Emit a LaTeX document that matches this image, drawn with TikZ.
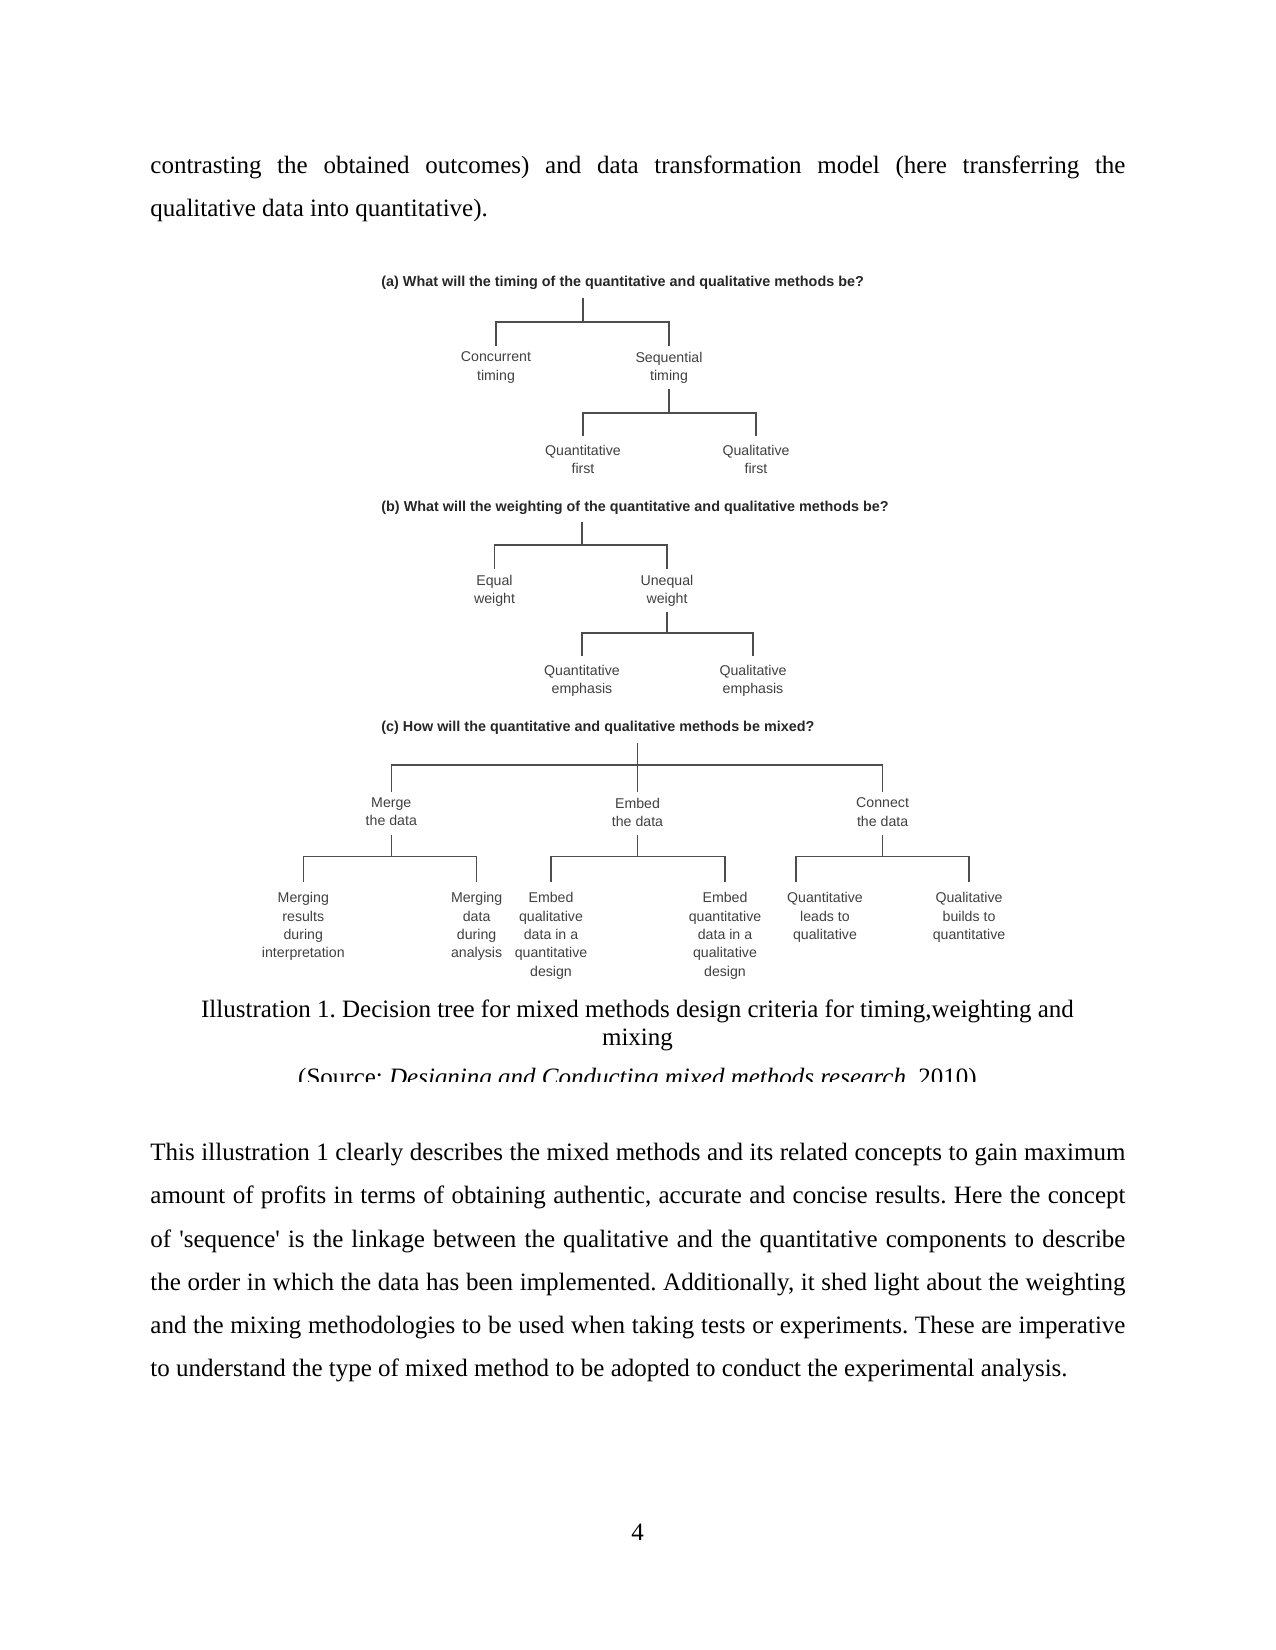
\documentclass[tikz,border=0pt]{standalone}
\usepackage{fontspec}
\setmainfont{Liberation Serif}
\setsansfont{Liberation Sans}
\usetikzlibrary{calc}

\definecolor{figink}{HTML}{404040}
\definecolor{headink}{HTML}{262626}
\definecolor{figline}{HTML}{4D4D4D}

\newcommand{\jline}[1]{\makebox[468pt][s]{#1}}

\tikzset{
  bodyline/.style={anchor=base west, inner sep=0pt, font=\fontsize{12}{14}\selectfont\frenchspacing},
  capline/.style={anchor=base, inner sep=0pt, font=\fontsize{12}{14}\selectfont\frenchspacing},
  question/.style={anchor=base west, inner sep=0pt, text=headink, font=\sffamily\bfseries\fontsize{6.9}{8}\selectfont},
  choice/.style={anchor=north, align=center, inner xsep=0pt, inner ysep=2.6pt, text depth=1.5pt, text=figink, font=\sffamily\fontsize{6.8}{8.8}\selectfont},
  leaf/.style={choice, inner ysep=4pt},
  deepleaf/.style={choice, inner ysep=5pt},
  fork/.style={draw=figline, line width=0.7pt},
}

\begin{document}
\begin{tikzpicture}[x=0.48pt, y=-0.48pt]
  \useasboundingbox (0,0) rectangle (1275,1650);

  % text above the figure
  \node[bodyline] (p1a) at (150,174) {\jline{contrasting the obtained outcomes) and data transformation model (here transferring the}};
  \node[bodyline] (p1b) at (150,217) {qualitative data into quantitative).};

  % (a) timing
  \node[question] (qa) at (381,287) {(a) What will the timing of the quantitative and qualitative methods be?};
  \node[choice] (conc) at (496,346) {Concurrent\\timing};
  \node[choice] (seq) at (669,346) {Sequential\\timing};
  \node[leaf] (qnfirst) at (583,436) {Quantitative\\first};
  \node[leaf] (qlfirst) at (756,436) {Qualitative\\first};
  \coordinate (ja) at (583,322);
  \coordinate (jseq) at (669,413);
  \draw[fork] (ja |- qa.south) ++(0,8) -- (ja) (conc.north) |- (ja) -| (seq.north);
  \draw[fork] (seq.south) -- (jseq) (qnfirst.north) |- (jseq) -| (qlfirst.north);

  % (b) weighting
  \node[question] (qb) at (381,511) {(b) What will the weighting of the quantitative and qualitative methods be?};
  \node[choice] (equal) at (494.5,569) {Equal\\weight};
  \node[choice] (unequal) at (667,569) {Unequal\\weight};
  \node[leaf] (qnemph) at (582,656.4) {Quantitative\\emphasis};
  \node[leaf] (qlemph) at (753,656.4) {Qualitative\\emphasis};
  \coordinate (jb) at (582,545);
  \coordinate (juneq) at (667,633);
  \draw[fork] (jb |- qb.south) ++(0,8) -- (jb) (equal.north) |- (jb) -| (unequal.north);
  \draw[fork] (unequal.south) -- (juneq) (qnemph.north) |- (juneq) -| (qlemph.north);

  % (c) mixing
  \node[question] (qc) at (381,731) {(c) How will the quantitative and qualitative methods be mixed?};
  \node[choice] (merge) at (391.3,792) {Merge\\the data};
  \node[choice] (embed) at (637.5,792) {Embed\\the data};
  \node[choice] (connect) at (882.6,792) {Connect\\the data};
  \coordinate (jc) at (637.5,765);
  \draw[fork] (jc |- qc.south) ++(0,9) -- (embed.north) (merge.north) |- (jc) -| (connect.north);

  \node[deepleaf] (mgres) at (303.3,881.7) {Merging\\results\\during\\interpretation};
  \node[deepleaf] (mgdat) at (476.6,881.7) {Merging\\data\\during\\analysis};
  \node[deepleaf] (embql) at (551,881.7) {Embed\\qualitative\\data in a\\quantitative\\design};
  \node[deepleaf] (embqn) at (725,881.7) {Embed\\quantitative\\data in a\\qualitative\\design};
  \node[deepleaf] (qnlead) at (825,881.7) {Quantitative\\leads to\\qualitative};
  \node[deepleaf] (qlbuild) at (969,881.7) {Qualitative\\builds to\\quantitative};
  \coordinate (jmerge) at (391.3,856.7);
  \coordinate (jembed) at (637.5,856.7);
  \coordinate (jconn) at (882.6,856.7);
  \draw[fork] (merge.south) -- (jmerge) (mgres.north) |- (jmerge) -| (mgdat.north);
  \draw[fork] (embed.south) -- (jembed) (embql.north) |- (jembed) -| (embqn.north);
  \draw[fork] (connect.south) -- (jconn) ($(qnlead.north)+(-29,0)$) |- (jconn) -| (qlbuild.north);

  % caption
  \node[capline] (cap1) at (637.5,1017) {Illustration 1. Decision tree for mixed methods design criteria for timing,weighting and};
  \node[capline] (cap2) at (637.5,1045) {mixing};
  \begin{scope}
    \clip (0,1050) rectangle (1275,1081);
    \node[capline] (source) at (637.5,1085) {(Source: \textit{Designing and Conducting mixed methods research}, 2010)};
  \end{scope}

  % text below the figure
  \node[bodyline] (p2a) at (150,1160.6) {\jline{This illustration 1 clearly describes the mixed methods and its related concepts to gain maximum}};
  \node[bodyline] (p2b) at (150,1203.8) {\jline{amount of profits in terms of obtaining authentic, accurate and concise results. Here the concept}};
  \node[bodyline] (p2c) at (150,1247) {\jline{of \textquotesingle sequence\textquotesingle{} is the linkage between the qualitative and the quantitative components to describe}};
  \node[bodyline] (p2d) at (150,1290.2) {\jline{the order in which the data has been implemented. Additionally, it shed light about the weighting}};
  \node[bodyline] (p2e) at (150,1333.4) {\jline{and the mixing methodologies to be used when taking tests or experiments. These are imperative}};
  \node[bodyline] (p2f) at (150,1376.6) {to understand the type of mixed method to be adopted to conduct the experimental analysis.};

  % page number
  \node[capline] (pageno) at (637.5,1540) {4};
\end{tikzpicture}
\end{document}
